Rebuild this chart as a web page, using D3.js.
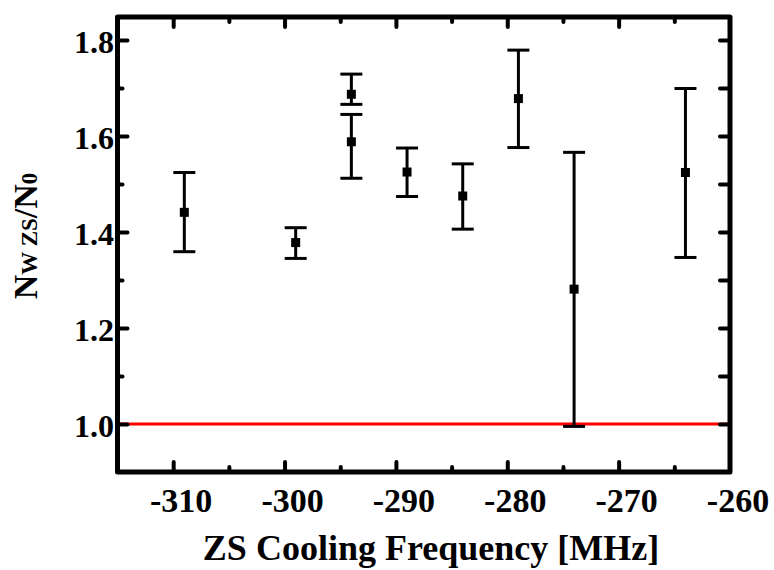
<!DOCTYPE html>
<html>
<head>
<meta charset="utf-8">
<script src="https://cdn.jsdelivr.net/npm/d3@7"></script>
<style>
  html, body { margin: 0; padding: 0; background: #fff; }
  svg { display: block; }
</style>
</head>
<body>
<svg id="chart" width="774" height="570"></svg>
<script>
// ---- data ----
const freq    = [-309, -299, -294, -294, -289, -284, -279, -274, -264];
const ratio   = [1.441, 1.378, 1.687, 1.588, 1.525, 1.475, 1.678, 1.281, 1.524];
const errHigh = [1.524, 1.409, 1.729, 1.645, 1.575, 1.542, 1.779, 1.566, 1.699];
const errLow  = [1.359, 1.345, 1.666, 1.512, 1.474, 1.406, 1.576, 0.995, 1.347];
const xMajorTicks = [-310, -300, -290, -280, -270, -260];
const xMinorTicks = [-305, -295, -285, -275, -265];
const yMajorTicks = [1.0, 1.2, 1.4, 1.6, 1.8];
const yMinorTicks = [1.1, 1.3, 1.5, 1.7];
const referenceLevel = 1.0;

// ---- layout ----
const FONT = "'Liberation Serif', 'Times New Roman', 'DejaVu Serif', serif";
const svg = d3.select("#chart");
const L = 117.5, R = 730, T = 17, B = 472;
const x = d3.scaleLinear().domain([-315, -260]).range([L, R]);
const y = d3.scaleLinear().domain([0.9, 1.848]).range([B, T]);

// reference line
svg.append("line")
  .attr("x1", L).attr("x2", R)
  .attr("y1", y(referenceLevel)).attr("y2", y(referenceLevel))
  .attr("stroke", "#ff0000").attr("stroke-width", 3);

// error bars
const pts = freq.map((f, i) => ({f, v: ratio[i], hi: errHigh[i], lo: errLow[i]}));
const capW = 11;
const eg = svg.append("g").attr("stroke", "#000").attr("stroke-width", 3);
eg.selectAll("line.v").data(pts).join("line")
  .attr("x1", d => x(d.f)).attr("x2", d => x(d.f))
  .attr("y1", d => y(d.hi)).attr("y2", d => y(d.lo));
eg.selectAll("line.hi").data(pts).join("line")
  .attr("x1", d => x(d.f) - capW).attr("x2", d => x(d.f) + capW)
  .attr("y1", d => y(d.hi)).attr("y2", d => y(d.hi));
eg.selectAll("line.lo").data(pts).join("line")
  .attr("x1", d => x(d.f) - capW).attr("x2", d => x(d.f) + capW)
  .attr("y1", d => y(d.lo)).attr("y2", d => y(d.lo));

// markers
svg.append("g").selectAll("rect").data(pts).join("rect")
  .attr("x", d => x(d.f) - 4.5).attr("y", d => y(d.v) - 4.5)
  .attr("width", 9).attr("height", 9).attr("fill", "#000");

// axes with inward ticks
function styleAxis(g, w) {
  g.select(".domain").remove();
  g.selectAll(".tick line").attr("stroke", "#000").attr("stroke-width", w).attr("stroke-linecap", "round");
  g.selectAll(".tick text").remove();
}
const xInner = xMajorTicks.filter(v => v > -315 && v < -260);
svg.append("g").attr("transform", `translate(0,${B})`)
  .call(d3.axisBottom(x).tickValues(xInner).tickSize(-10)).call(g => styleAxis(g, 4));
svg.append("g").attr("transform", `translate(0,${B})`)
  .call(d3.axisBottom(x).tickValues(xMinorTicks).tickSize(-5)).call(g => styleAxis(g, 4));
svg.append("g").attr("transform", `translate(0,${T})`)
  .call(d3.axisTop(x).tickValues(xInner).tickSize(-10)).call(g => styleAxis(g, 4));
svg.append("g").attr("transform", `translate(0,${T})`)
  .call(d3.axisTop(x).tickValues(xMinorTicks).tickSize(-5)).call(g => styleAxis(g, 4));
svg.append("g").attr("transform", `translate(${L},0)`)
  .call(d3.axisLeft(y).tickValues(yMajorTicks).tickSize(-10)).call(g => styleAxis(g, 4));
svg.append("g").attr("transform", `translate(${L},0)`)
  .call(d3.axisLeft(y).tickValues(yMinorTicks).tickSize(-5)).call(g => styleAxis(g, 4));
svg.append("g").attr("transform", `translate(${R},0)`)
  .call(d3.axisRight(y).tickValues(yMajorTicks.concat(yMinorTicks)).tickSize(-10)).call(g => styleAxis(g, 4));

// frame
svg.append("rect").attr("x", L).attr("y", T).attr("width", R - L).attr("height", B - T)
  .attr("fill", "none").attr("stroke", "#000").attr("stroke-width", 5).attr("stroke-linejoin", "round");

// tick labels
svg.append("g").selectAll("text").data(xMajorTicks).join("text")
  .attr("x", d => x(d) + 8).attr("y", 512)
  .attr("text-anchor", "middle").attr("font-size", 34)
  .attr("font-family", FONT).attr("font-weight", "bold")
  .text(d => d3.format("d")(d).replace("\u2212", "-"));
svg.append("g").selectAll("text").data(yMajorTicks).join("text")
  .attr("x", 114).attr("y", d => y(d) + 13)
  .attr("text-anchor", "end").attr("font-size", 32)
  .attr("font-family", FONT).attr("font-weight", "bold")
  .text(d => d3.format(".1f")(d));

// axis titles
svg.append("text").attr("x", 431).attr("y", 560).attr("text-anchor", "middle")
  .attr("font-family", FONT).attr("font-weight", "bold")
  .attr("font-size", 36).text("ZS Cooling Frequency [MHz]");
const yt = svg.append("text").attr("transform", "translate(37,236) rotate(-90)")
  .attr("font-family", FONT).attr("font-weight", "bold")
  .attr("text-anchor", "middle").attr("font-size", 34);
yt.append("tspan").text("N");
yt.append("tspan").attr("font-size", 23).text("W ZS");
yt.append("tspan").text("/N");
yt.append("tspan").attr("font-size", 23).text("0");
</script>
</body>
</html>
